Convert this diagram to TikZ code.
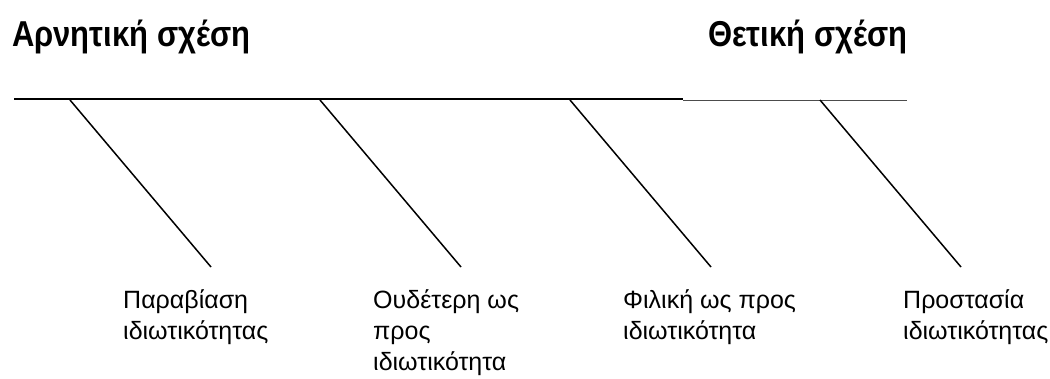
\documentclass[tikz,border=0pt]{standalone}
\usepackage{fontspec}
\setmainfont{Liberation Sans}
\begin{document}
\begin{tikzpicture}[x=1pt,y=-1pt,
  title/.style={anchor=base west,inner sep=0pt,font=\bfseries\fontsize{36}{40}\selectfont},
  lbl/.style={anchor=base west,inner sep=0pt,align=left,font=\fontsize{25}{31}\selectfont},
  spine/.style={line width=2.6pt,black},
  spinethin/.style={line width=1pt,black!70},
  rib/.style={line width=1.5pt,black}]
\useasboundingbox (0,0) rectangle (1050,378);
\node[title] (neg) at (12,46) {\scalebox{0.86}[1]{Αρνητική σχέση}};
\node[title] (pos) at (708,46) {\scalebox{0.86}[1]{Θετική σχέση}};
\coordinate (s0) at (14,99);
\coordinate (s1) at (683,99);
\coordinate (s2) at (907,100);
\coordinate (s1b) at (683,100);
\draw[spine] (s0) -- (s1);
\draw[spinethin] (s1b) -- (s2);
\foreach \i/\x in {1/70,2/320,3/570,4/820}{
  \coordinate (t\i) at (\x,100);
  \coordinate (b\i) at (\x+141,267);
  \draw[rib] (t\i) -- (b\i);
}
\node[lbl] (l1) at (123,339) {Παραβίαση\\ιδιωτικότητας};
\node[lbl] (l2) at (373,370) {Ουδέτερη ως\\προς\\ιδιωτικότητα};
\node[lbl] (l3) at (623,339) {Φιλική ως προς\\ιδιωτικότητα};
\node[lbl] (l4) at (903,339) {Προστασία\\ιδιωτικότητας};
\end{tikzpicture}
\end{document}
